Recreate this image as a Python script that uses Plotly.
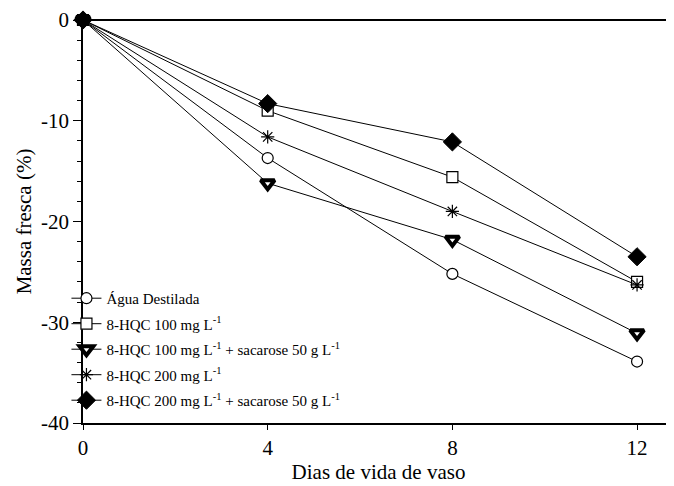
import plotly.graph_objects as go

dias = [0, 4, 8, 12]
agua = [0, -13.7, -25.2, -33.9]
hqc100 = [0, -9.0, -15.6, -26.0]
hqc100_sac = [0, -16.2, -21.8, -31.1]
hqc200 = [0, -11.6, -19.0, -26.3]
hqc200_sac = [0, -8.3, -12.1, -23.5]

y_ticks = [0, -10, -20, -30, -40]
y_ticklabels = ["0", "-10", "-20", "-30", "-40"]
x_ticks = [0, 4, 8, 12]

names = ["Água Destilada",
         "8-HQC 100 mg L<sup>-1</sup>",
         "8-HQC 100 mg L<sup>-1</sup> + sacarose 50 g L<sup>-1</sup>",
         "8-HQC 200 mg L<sup>-1</sup>",
         "8-HQC 200 mg L<sup>-1</sup> + sacarose 50 g L<sup>-1</sup>"]
series = [agua, hqc100, hqc100_sac, hqc200, hqc200_sac]
markers = [
    dict(symbol="circle", size=11, color="white", line=dict(color="black", width=1.2)),
    dict(symbol="square", size=11, color="white", line=dict(color="black", width=1.2)),
    dict(symbol="triangle-down", size=12, color="white", line=dict(color="black", width=4)),
    dict(symbol="asterisk-open", size=11, color="black", line=dict(color="black", width=1.2)),
    dict(symbol="diamond", size=14, color="black", line=dict(color="black", width=1)),
]

fig = go.Figure()
for i, (n, s, m) in enumerate(zip(names, series, markers)):
    fig.add_trace(go.Scatter(x=dias, y=s, name=n, mode="lines+markers",
                             legendgroup=f"g{i}",
                             line=dict(color="black", width=1), marker=m,
                             cliponaxis=False))

font = "Liberation Serif"
fig.update_layout(
    width=666, height=478,
    margin=dict(l=75, r=0, t=12, b=63),
    plot_bgcolor="white", paper_bgcolor="white",
    font=dict(family=font, size=19, color="black"),
    showlegend=True,
    legend=dict(x=-0.028, y=0.35, xanchor="left", yanchor="top",
                font=dict(family=font, size=15, color="black"),
                bgcolor="rgba(0,0,0,0)", tracegroupgap=3, itemwidth=30),
    xaxis=dict(range=[0, 12.8], tickvals=x_ticks, ticks="outside", ticklen=5,
               tickwidth=1.2, tickcolor="black", showline=True, linecolor="black",
               linewidth=1.5, showgrid=False, zeroline=False, automargin=False,
               title=dict(text="Dias de vida de vaso", font=dict(family=font, size=21), standoff=4),
               tickfont=dict(family=font, size=21)),
    yaxis=dict(range=[-40, 0], tickvals=y_ticks, ticktext=y_ticklabels, ticks="outside", ticklen=8,
               tickwidth=1.2, tickcolor="black", showline=True, linecolor="black",
               linewidth=1.5, showgrid=False, zeroline=True, zerolinecolor="black",
               zerolinewidth=2, automargin=False,
               minor=dict(dtick=2, ticks="outside", ticklen=4, tickcolor="black",
                          tickwidth=1, showgrid=False),
               title=dict(text="Massa fresca (%)", font=dict(family=font, size=21), standoff=4),
               tickfont=dict(family=font, size=21)),
)
fig.write_html("out.html")
